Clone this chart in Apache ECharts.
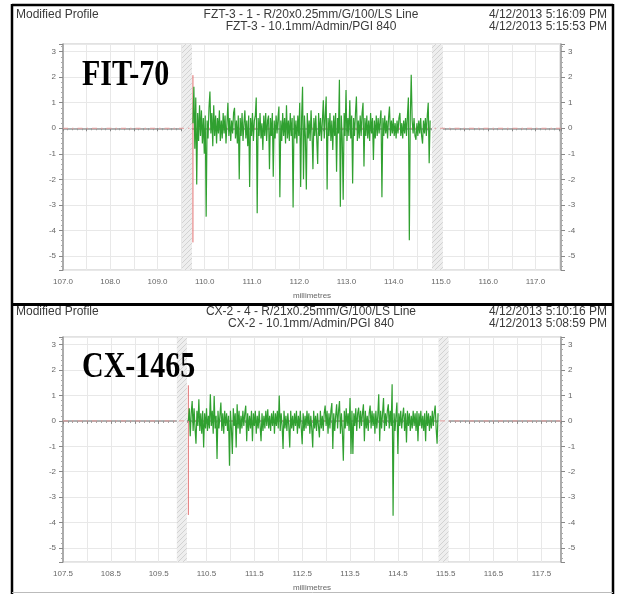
<!DOCTYPE html>
<html>
<head>
<meta charset="utf-8">
<script src="https://cdn.jsdelivr.net/npm/echarts@6/dist/echarts.min.js"></script>
<style>
html,body{margin:0;padding:0;background:#fff;}
#chart{width:617px;height:594px;}
</style>
</head>
<body>
<div id="chart"></div>
<script>
// ---------------- data ----------------
const step = 0.02; // sampling step of the profile (mm)

// Top panel (FIT-70)
const topTitle = ["FZT-3 - 1 - R/20x0.25mm/G/100/LS Line", "FZT-3 - 10.1mm/Admin/PGI 840"];
const topDates = ["4/12/2013 5:16:09 PM", "4/12/2013 5:15:53 PM"];
const topLabel = "FIT-70";
const topXRange = [107.0, 117.54];
const topStart = 109.75;
const topRed = [2.08, -4.47];
const topBands = [[109.52, 109.73], [114.81, 115.04]];
const topValues = [
 0.2, 1.63, -0.8, 1.2, -2.2, 0.6, -0.5, 0.9, -0.3, 0.7,
 -0.6, 0.4, -1.0, 0.5, -3.46, 0.3, -0.4, 0.8, 1.44, -0.2,
 0.6, -0.7, 0.9, -0.3, 0.5, -0.6, 0.4, -0.2, 0.7, -0.5,
 0.3, -0.4, 0.6, -0.2, 0.5, -0.6, 0.2, 1.0, -0.3, 0.4,
 -0.5, 0.3, -0.2, 0.6, 0.8, -0.4, 0.3, -0.6, 0.5, -2.0,
 0.4, -0.3, 0.6, -0.5, 0.2, 0.7, -0.4, 0.3, -0.7, 0.5,
 -2.3, 0.4, -0.3, 0.6, -0.5, 0.3, 0.5, 1.2, -3.33, 0.4,
 -0.3, 0.6, -0.4, 0.2, -0.85, 0.5, -0.3, 0.6, -0.5, 0.3,
 0.5, -1.6, 0.4, -0.3, 0.6, -1.9, 0.3, -0.4, 0.5, -0.2,
 0.4, 0.85, -2.7, 0.3, -0.5, 0.6, -0.3, 0.4, -0.6, 0.9,
 -0.4, 0.3, -0.5, 0.6, -0.3, 0.4, -3.1, 0.5, -0.4, 0.3,
 -0.6, 0.5, -0.3, 1.0, -2.3, 0.4, 1.63, -2.0, 0.5, -0.3,
 -2.4, 0.6, -0.4, 0.3, -0.5, 0.7, -0.2, -1.6, 0.4, -0.3,
 0.5, -0.4, -1.4, 0.6, -0.3, 0.4, -0.5, 0.3, 1.1, -0.4,
 0.5, 1.24, -2.4, 0.4, -0.3, 0.6, -0.5, 0.3, -0.85, 0.5,
 -0.3, 0.6, -1.7, 0.4, -0.2, 1.9, -3.07, 0.5, -0.4, -2.8,
 0.6, -0.3, 1.5, -0.5, 0.4, -0.3, 1.1, -0.4, 0.5, -2.16,
 0.4, -0.3, 0.6, 1.24, -0.5, 0.3, -0.4, 0.5, -0.3, 0.6,
 1.0, -1.5, 0.4, -0.3, 0.5, -0.4, 0.3, -0.5, 0.6, -0.2,
 0.4, -1.24, 0.3, -0.4, 0.5, -0.3, 0.4, -0.2, 0.3, 0.7,
 -2.7, 0.4, -0.3, 0.5, -0.2, 0.3, -0.4, 0.4, 0.85, -0.3,
 0.3, -0.2, 0.4, -0.3, 0.2, -0.4, 0.3, -0.2, 0.4, 0.6,
 -0.3, 0.2, -0.4, 0.3, -0.2, 0.4, -0.3, 0.5, 1.2, -4.38,
 0.4, 2.1, 0.3, -0.2, 0.4, -0.3, -0.45, 0.2, -0.3, 0.3,
 -0.2, 0.4, -0.3, -0.6, 0.3, -0.2, 0.4, -0.3, 0.5, 1.0,
 -1.37, 0.3
];

// Bottom panel (CX-1465)
const botTitle = ["CX-2 - 4 - R/21x0.25mm/G/100/LS Line", "CX-2 - 10.1mm/Admin/PGI 840"];
const botDates = ["4/12/2013 5:10:16 PM", "4/12/2013 5:08:59 PM"];
const botLabel = "CX-1465";
const botXRange = [107.5, 117.91];
const botStart = 110.12;
const botRed = [1.4, -3.7];
const botBands = [[109.88, 110.09], [115.35, 115.56]];
const botValues = [
 0.0, 0.5, -0.6, 0.3, 0.78, -0.4, 0.5, -0.3, -0.9, 0.4,
 -0.2, 0.85, -0.4, 0.3, -0.5, 0.4, -1.05, 0.3, -0.3, 0.5,
 -0.4, 0.2, -0.3, 1.05, -0.2, 0.4, -0.5, 0.98, -0.3, 0.2,
 -1.5, 0.4, -0.3, 0.2, 0.72, -0.4, 0.3, -0.5, 0.4, -0.2,
 0.3, -0.4, 0.2, -1.76, 0.4, -0.3, -1.3, 0.5, -0.2, 0.3,
 -1.05, 0.65, -0.3, 0.4, -0.5, 0.2, -0.3, 0.4, -0.2, 0.3,
 0.6, -0.8, 0.3, -0.4, 0.2, -0.3, 0.4, -0.8, 0.3, -0.2,
 0.4, -0.5, 0.2, -0.3, 0.4, -0.2, -0.8, 0.3, -0.4, 0.2,
 -0.3, 0.4, -0.2, 0.46, -0.3, 0.2, -0.4, 0.3, -0.2, 0.4,
 -0.5, 0.3, -0.2, 0.4, -0.3, 1.0, -0.4, 0.3, -0.2, -1.1,
 0.4, -0.3, 0.2, -0.4, 0.3, -0.2, -1.05, 0.4, -0.3, 0.2,
 -0.4, 0.3, -0.2, 0.4, -0.5, 0.2, -0.3, 0.4, 0.46, -0.92,
 0.3, -0.4, 0.2, -0.3, 0.4, -0.2, 0.3, -0.5, 0.2, -0.3,
 -1.05, 0.4, -0.3, 0.2, -0.4, 0.3, -0.2, -0.65, 0.4, -0.3,
 0.2, -0.4, 0.3, 0.6, -0.2, 0.4, -0.5, 0.3, -0.3, 0.4,
 0.7, -1.1, 0.3, -0.4, 0.2, 0.65, -0.3, 0.4, 0.78, -0.5,
 0.3, -0.4, -1.57, 0.4, -0.3, 0.5, -0.2, 0.3, -0.4, 0.9,
 -1.3, 0.4, -1.3, 0.3, -0.2, 0.5, -0.4, 0.3, 0.52, -0.3,
 0.4, -0.2, 0.3, 0.65, -0.8, 0.4, -0.3, 0.2, -0.4, 0.3,
 0.6, -0.3, 0.4, -0.2, 0.3, -0.5, 0.4, -0.3, 0.2, 1.05,
 -0.8, 0.4, -0.3, 0.3, 0.9, -0.4, 0.3, -0.2, 0.4, 0.65,
 -0.3, 0.4, -0.2, 1.44, -3.73, 0.3, -0.4, 0.2, 0.72, -1.3,
 0.3, -0.2, 0.4, -0.3, 0.2, 0.52, -0.4, 0.3, -0.85, 0.4,
 -0.2, 0.3, -0.4, 0.2, -0.3, 0.4, -0.2, 0.3, -0.4, 0.39,
 -0.8, 0.3, -0.2, 0.4, -0.3, 0.2, -0.4, 0.3, -0.8, 0.4,
 -0.2, 0.3, -0.4, 0.2, -0.3, 0.4, -0.2, 0.3, 0.6, -0.3,
 -0.9, 0.3
];

const yRange = [-5.55, 3.3];
const commonTexts = { header: "Modified Profile", xName: "millimetres" };

// ---------------- styling helpers ----------------
const hatch = document.createElement('canvas');
hatch.width = 5; hatch.height = 5;
(function () {
  const c = hatch.getContext('2d');
  c.fillStyle = '#eeeeee'; c.fillRect(0, 0, 5, 5);
  c.strokeStyle = '#d2d2d2'; c.lineWidth = 1;
  c.beginPath();
  c.moveTo(0, 5); c.lineTo(5, 0);
  c.moveTo(-2.5, 2.5); c.lineTo(2.5, -2.5);
  c.moveTo(2.5, 7.5); c.lineTo(7.5, 2.5);
  c.stroke();
})();

const grids = [
  { left: 63, right: 56, top: 44, height: 226 },
  { left: 63, right: 56, top: 337, height: 225 }
];

function xAxisFor(gridIndex, range, labelFrac) {
  return {
    type: 'value', gridIndex: gridIndex, min: range[0], max: range[1], interval: 0.5,
    name: commonTexts.xName, nameLocation: 'middle', nameGap: 22,
    nameTextStyle: { color: '#666', fontSize: 8, fontFamily: 'Liberation Sans' },
    axisLine: { show: true, lineStyle: { color: '#999', width: 1.5 } },
    axisTick: { show: true, length: 3, lineStyle: { color: '#888' } },
    minorTick: { show: true, splitNumber: 5, length: 2, lineStyle: { color: '#999' } },
    splitLine: { show: true, lineStyle: { color: '#e8e8e8', width: 1 } },
    axisLabel: {
      color: '#666', fontSize: 8, fontFamily: 'Liberation Sans', margin: 8,
      showMinLabel: true, showMaxLabel: false,
      formatter: function (v) {
        const f = v - Math.floor(v);
        return Math.abs(f - labelFrac) < 1e-6 || Math.abs(f - labelFrac - 1) < 1e-6 ? v.toFixed(1) : '';
      }
    }
  };
}
function yAxisFor(gridIndex, pos) {
  return {
    type: 'value', gridIndex: gridIndex, position: pos, min: yRange[0], max: yRange[1], splitNumber: 8,
    axisLine: { show: true, lineStyle: { color: '#999', width: 1.5 } },
    axisTick: { show: true, length: 4, lineStyle: { color: '#888' } },
    minorTick: { show: true, splitNumber: 5, length: 2, lineStyle: { color: '#aaa' } },
    splitLine: { show: pos === 'left', lineStyle: { color: '#e8e8e8', width: 1 } },
    axisLabel: {
      color: '#666', fontSize: 8, fontFamily: 'Liberation Sans', margin: 7,
      showMinLabel: false, showMaxLabel: false,
      formatter: function (v) { return Math.abs(v - Math.round(v)) < 1e-6 ? String(Math.round(v)) : ''; }
    }
  };
}

function panelSeries(idx, range, start, values, red, bands) {
  const prof = values.map(function (v, i) { return [start + i * step, v]; });
  return [
    {
      type: 'line', xAxisIndex: idx, yAxisIndex: idx * 2, symbol: 'none', z: 1, silent: true,
      data: [[range[0], 0], [range[1], 0]],
      lineStyle: { color: '#e49c9c', width: 1, type: [5, 4, 1.5, 4] },
      markArea: {
        silent: true,
        itemStyle: { color: { image: hatch, repeat: 'repeat' } },
        data: bands.map(function (b) { return [{ xAxis: b[0] }, { xAxis: b[1] }]; })
      }
    },
    {
      type: 'line', xAxisIndex: idx, yAxisIndex: idx * 2, symbol: 'none', z: 3, silent: true,
      data: [[start, red[0]], [start, red[1]]],
      lineStyle: { color: '#e07070', width: 1 }
    },
    {
      type: 'line', xAxisIndex: idx, yAxisIndex: idx * 2, symbol: 'none', z: 4, silent: true,
      data: prof,
      lineStyle: { color: '#30a030', width: 1.2 }
    }
  ];
}

function headerGraphics(y0, title, dates) {
  const f = '12px "Liberation Sans"';
  return [
    { type: 'text', x: 16, y: y0, style: { text: commonTexts.header, font: f, fill: '#3a3a3a', textVerticalAlign: 'middle' } },
    { type: 'text', x: 311, y: y0, style: { text: title[0], font: f, fill: '#3a3a3a', textAlign: 'center', textVerticalAlign: 'middle' } },
    { type: 'text', x: 311, y: y0 + 12, style: { text: title[1], font: f, fill: '#3a3a3a', textAlign: 'center', textVerticalAlign: 'middle' } },
    { type: 'text', x: 607, y: y0, style: { text: dates[0], font: f, fill: '#3a3a3a', textAlign: 'right', textVerticalAlign: 'middle' } },
    { type: 'text', x: 607, y: y0 + 12, style: { text: dates[1], font: f, fill: '#3a3a3a', textAlign: 'right', textVerticalAlign: 'middle' } }
  ];
}

const chart = echarts.init(document.getElementById('chart'), null, { renderer: 'canvas' });
const option = {
  animation: false,
  backgroundColor: '#ffffff',
  grid: grids.map(function (g) { return Object.assign({ show: true, borderColor: '#c4c4c4', borderWidth: 1, backgroundColor: '#fff' }, g); }),
  xAxis: [xAxisFor(0, topXRange, 0), xAxisFor(1, botXRange, 0.5)],
  yAxis: [yAxisFor(0, 'left'), yAxisFor(0, 'right'), yAxisFor(1, 'left'), yAxisFor(1, 'right')],
  series: [].concat(
    panelSeries(0, topXRange, topStart, topValues, topRed, topBands),
    panelSeries(1, botXRange, botStart, botValues, botRed, botBands)
  ),
  graphic: [].concat(
    headerGraphics(15, topTitle, topDates),
    headerGraphics(312, botTitle, botDates),
    [
      { type: 'text', x: 82, y: 76, scaleY: 1.2, z: 100, style: { text: topLabel, font: 'bold 30px "Liberation Serif"', fill: '#000', textVerticalAlign: 'middle' } },
      { type: 'text', x: 82, y: 368, scaleY: 1.2, z: 100, style: { text: botLabel, font: 'bold 30px "Liberation Serif"', fill: '#000', textVerticalAlign: 'middle' } },
      { type: 'line', z: 100, shape: { x1: 12, y1: 5, x2: 613, y2: 5 }, style: { stroke: '#000', lineWidth: 2.5 } },
      { type: 'line', z: 100, shape: { x1: 12, y1: 4, x2: 12, y2: 594 }, style: { stroke: '#000', lineWidth: 2.5 } },
      { type: 'line', z: 100, shape: { x1: 613, y1: 4, x2: 613, y2: 594 }, style: { stroke: '#000', lineWidth: 2.5 } },
      { type: 'line', z: 100, shape: { x1: 12, y1: 592.5, x2: 613, y2: 592.5 }, style: { stroke: '#bbb', lineWidth: 1 } },
      { type: 'line', z: 100, shape: { x1: 12, y1: 304.5, x2: 613, y2: 304.5 }, style: { stroke: '#000', lineWidth: 3 } }
    ]
  )
};
chart.setOption(option);
</script>
</body>
</html>
